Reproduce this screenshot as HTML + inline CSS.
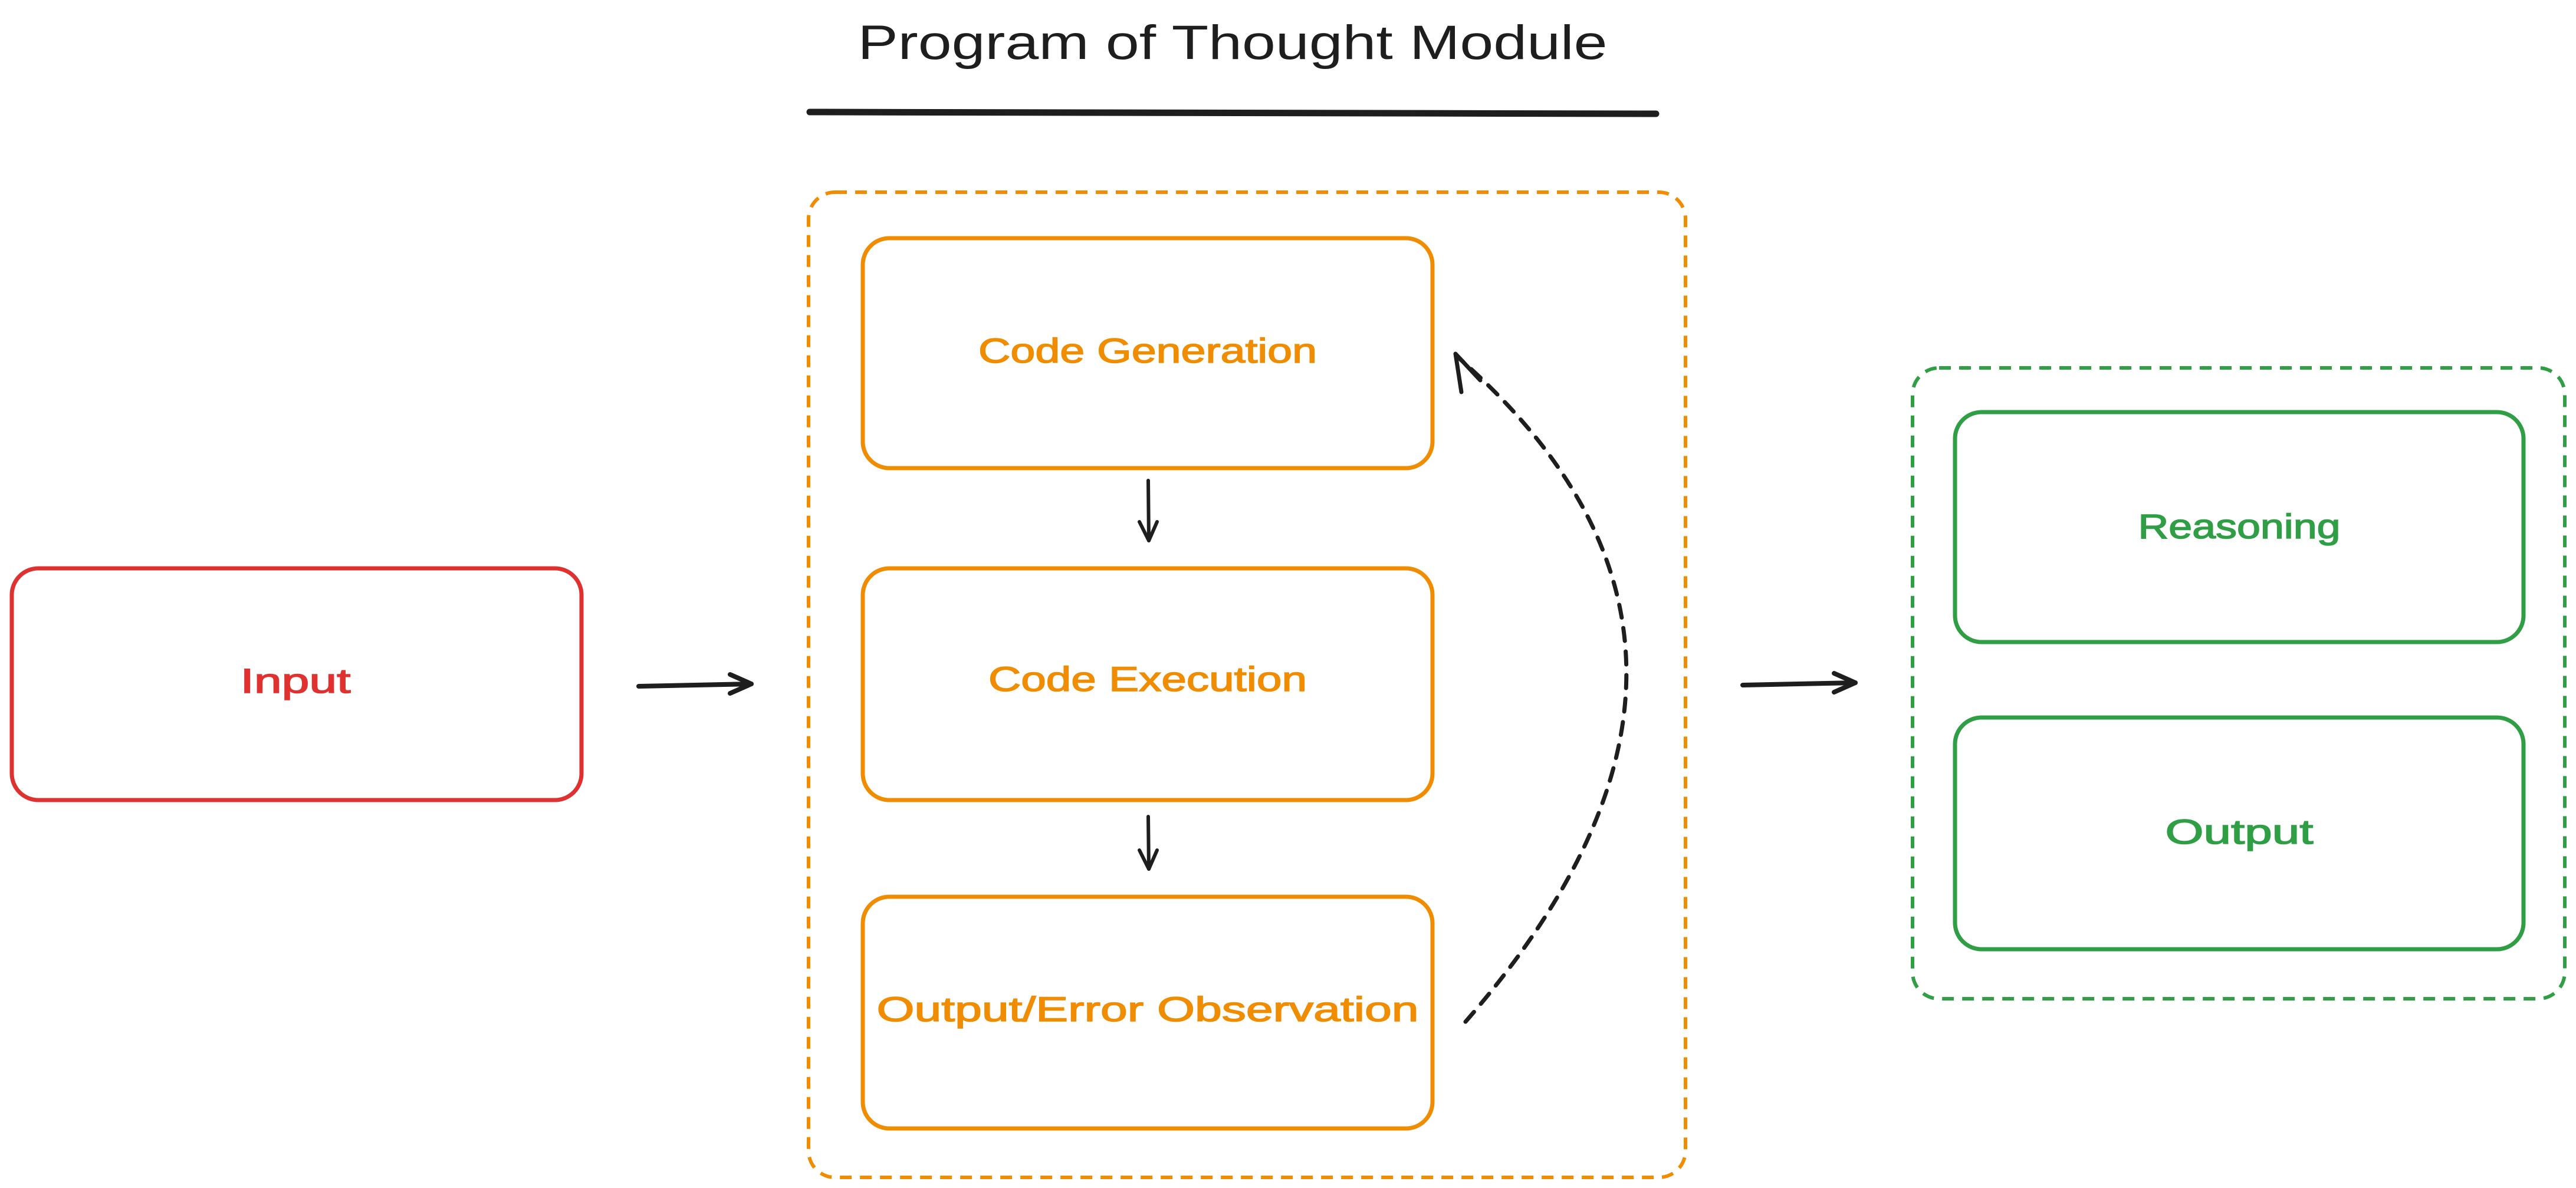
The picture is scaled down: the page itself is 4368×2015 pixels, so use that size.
<!DOCTYPE html>
<html><head><meta charset="utf-8"><style>
html,body{margin:0;padding:0;background:#fff;}
svg{display:block}
text{font-family:"Liberation Sans",sans-serif;}
</style></head><body>
<svg width="4368" height="2015" viewBox="0 0 4368 2015" xmlns="http://www.w3.org/2000/svg">
<rect width="4368" height="2015" fill="#fff"/>
<!-- Title -->
<text x="2090" y="100" font-size="82" fill="#1e1e1e" text-anchor="middle" textLength="1271" lengthAdjust="spacingAndGlyphs">Program of Thought Module</text>
<line x1="1373" y1="190" x2="2808" y2="193" stroke="#1e1e1e" stroke-width="11" stroke-linecap="round"/>

<!-- Orange container -->
<rect x="1371" y="326" width="1487" height="1671" rx="45" fill="none" stroke="#f08c00" stroke-width="6" stroke-dasharray="20 14"/>
<g fill="none" stroke="#f08c00" stroke-width="7">
<rect x="1463" y="404" width="966" height="390" rx="45"/>
<rect x="1463" y="964" width="966" height="393" rx="45"/>
<rect x="1463" y="1521" width="966" height="393" rx="45"/>
</g>
<g fill="#f08c00" font-size="58" text-anchor="middle" stroke="#f08c00" stroke-width="1.5">
<text x="1946" y="615" textLength="574" lengthAdjust="spacingAndGlyphs">Code Generation</text>
<text x="1946" y="1172" textLength="540" lengthAdjust="spacingAndGlyphs">Code Execution</text>
<text x="1946" y="1732" textLength="919" lengthAdjust="spacingAndGlyphs">Output/Error Observation</text>
</g>

<!-- Input -->
<rect x="20" y="964" width="966" height="393" rx="45" fill="none" stroke="#e03131" stroke-width="7"/>
<text x="501" y="1175" font-size="58" fill="#e03131" stroke="#e03131" stroke-width="1.5" text-anchor="middle" textLength="187" lengthAdjust="spacingAndGlyphs">Input</text>

<!-- Green container -->
<rect x="3243" y="624" width="1106" height="1070" rx="45" fill="none" stroke="#2f9e44" stroke-width="6" stroke-dasharray="20 14"/>
<g fill="none" stroke="#2f9e44" stroke-width="7">
<rect x="3315" y="699" width="964" height="390" rx="45"/>
<rect x="3315" y="1217" width="964" height="393" rx="45"/>
</g>
<g fill="#2f9e44" font-size="58" text-anchor="middle" stroke="#2f9e44" stroke-width="1.5">
<text x="3797" y="913" textLength="343" lengthAdjust="spacingAndGlyphs">Reasoning</text>
<text x="3797" y="1431" textLength="251" lengthAdjust="spacingAndGlyphs">Output</text>
</g>

<!-- Arrows -->
<g stroke="#1e1e1e" fill="none" stroke-linecap="round" stroke-linejoin="round">
<path d="M1083 1164 L1274 1160" stroke-width="8"/>
<path d="M1238 1144 L1274 1160 L1238 1176" stroke-width="8"/>
<path d="M2955 1162 L3146 1158" stroke-width="8"/>
<path d="M3110 1142 L3146 1158 L3110 1174" stroke-width="8"/>
<path d="M1947 815 L1948 917" stroke-width="6"/>
<path d="M1932 885 L1948 917 L1962 885" stroke-width="6"/>
<path d="M1947 1385 L1948 1474" stroke-width="6"/>
<path d="M1932 1442 L1948 1474 L1962 1442" stroke-width="6"/>
<path d="M2485 1733 Q3038 1100 2470 604" stroke-width="7" stroke-dasharray="22 18"/>
<path d="M2478 665 L2468 600 L2510 645" stroke-width="7"/>
</g>
</svg>
</body></html>
